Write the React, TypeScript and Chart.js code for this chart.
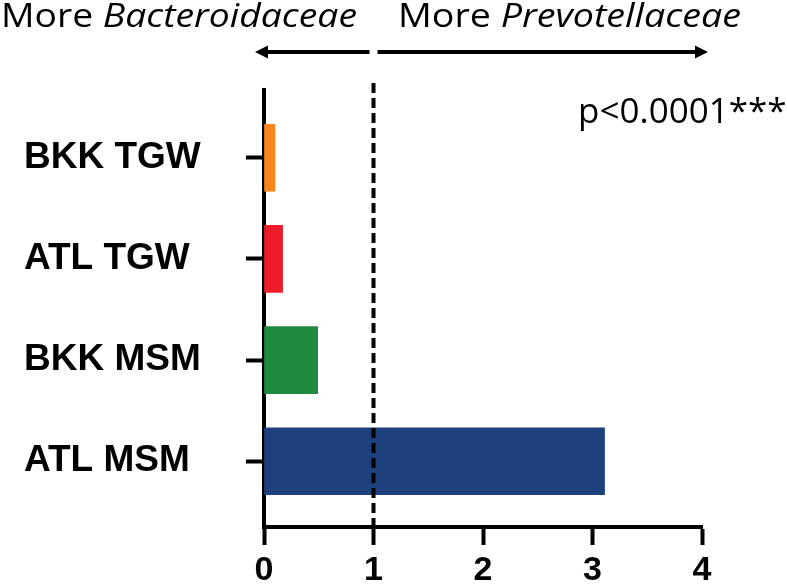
import React, { useEffect, useRef } from "react";
import { Chart, registerables } from "chart.js";

Chart.register(...registerables);

const categories = ["BKK TGW", "ATL TGW", "BKK MSM", "ATL MSM"];
const ratioValues = [0.1, 0.17, 0.49, 3.11];
const barColors = ["#F7861F", "#EC1C2A", "#1F8A3D", "#1E407C"];
const xTicks = [0, 1, 2, 3, 4];
const referenceValue = 1;
const leftLabel = ["More ", "Bacteroidaceae"];
const rightLabel = ["More ", "Prevotellaceae"];
const pValueText = "p<0.0001***";

const decorPlugin = {
  id: "decor",
  afterDraw(chart: any) {
    const ctx = chart.ctx as CanvasRenderingContext2D;
    const xs = chart.scales.x;
    const area = chart.chartArea;
    const x0 = xs.getPixelForValue(xTicks[0]);
    const x1 = xs.getPixelForValue(referenceValue);
    const x4 = xs.getPixelForValue(xTicks[xTicks.length - 1]);
    ctx.save();
    // dashed reference line
    ctx.strokeStyle = "#000";
    ctx.lineWidth = 4;
    ctx.setLineDash([10, 5]);
    ctx.beginPath();
    ctx.moveTo(x1, area.top - 7);
    ctx.lineTo(x1, area.bottom);
    ctx.stroke();
    ctx.setLineDash([]);

    // arrows
    const ay = area.top - 38;
    const drawArrow = (from: number, to: number) => {
      const dir = Math.sign(to - from);
      ctx.lineWidth = 4;
      ctx.beginPath();
      ctx.moveTo(from, ay);
      ctx.lineTo(to - dir * 10, ay);
      ctx.stroke();
      ctx.beginPath();
      ctx.moveTo(to, ay);
      ctx.lineTo(to - dir * 13, ay - 6.5);
      ctx.lineTo(to - dir * 13, ay + 6.5);
      ctx.closePath();
      ctx.fill();
    };
    ctx.fillStyle = "#000";
    drawArrow(x1 - 4, x0 - 9);
    drawArrow(x1 + 4, x4 + 6);

    // top labels
    const drawLabel = (parts: string[], left: number, right: number, base: number) => {
      const fNormal = "500 32px 'Open Sans'";
      const fItalic = "italic 500 32px 'Open Sans'";
      ctx.font = fNormal;
      const w1 = ctx.measureText(parts[0]).width;
      ctx.font = fItalic;
      const w2 = ctx.measureText(parts[1]).width;
      const scale = (right - left) / (w1 + w2);
      ctx.save();
      ctx.translate(left, base);
      ctx.scale(scale, 1);
      ctx.textAlign = "left";
      ctx.textBaseline = "alphabetic";
      ctx.font = fNormal;
      ctx.fillText(parts[0], 0, 0);
      ctx.font = fItalic;
      ctx.fillText(parts[1], w1, 0);
      ctx.restore();
    };
    drawLabel(leftLabel, 1, 357, 27);
    drawLabel(rightLabel, 398, 741, 27);

    // p-value
    ctx.font = "35px 'Open Sans'";
    ctx.textAlign = "left";
    ctx.textBaseline = "alphabetic";
    ctx.fillText(pValueText, 578, 123);
    ctx.restore();
  },
};

export default function App() {
  const ref = useRef<HTMLCanvasElement | null>(null);
  useEffect(() => {
    if (!ref.current) return;
    const chart = new Chart(ref.current, {
      type: "bar",
      data: {
        datasets: [
          {
            data: ratioValues.map((v, i) => ({ x: v, y: i })) as any,
            backgroundColor: barColors,
            borderWidth: 0,
            barThickness: 67,
          },
        ],
      },
      options: {
        indexAxis: "y",
        animation: false,
        responsive: false,
        layout: { padding: { left: 24, top: 90, right: 85, bottom: 0 } },
        plugins: { legend: { display: false }, tooltip: { enabled: false } },
        scales: {
          x: {
            type: "linear",
            min: xTicks[0],
            max: xTicks[xTicks.length - 1],
            afterBuildTicks: (axis: any) => {
              axis.ticks = xTicks.map((v) => ({ value: v }));
            },
            afterFit: (s: any) => {
              s.height = 59;
            },
            grid: {
              drawOnChartArea: false,
              drawTicks: true,
              tickLength: 18,
              tickWidth: 4,
              color: "#000",
            },
            border: { color: "#000", width: 4 },
            ticks: {
              color: "#000",
              padding: 5,
              font: { family: "'Liberation Sans'", size: 34, weight: "bold" },
            },
          },
          y: {
            type: "linear",
            reverse: true,
            offset: false,
            min: -0.67,
            max: 3.65,
            z: 1,
            afterBuildTicks: (axis: any) => {
              axis.ticks = categories.map((_, i) => ({ value: i }));
            },
            afterFit: (s: any) => {
              s.width = 240;
            },
            grid: {
              offset: false,
              drawOnChartArea: false,
              drawTicks: true,
              tickLength: 18,
              tickWidth: 4,
              color: "#000",
            },
            border: { color: "#000", width: 4 },
            ticks: {
              color: "#000",
              crossAlign: "far",
              padding: 10,
              callback: (v: any) => categories[Number(v)] ?? "",
              font: { family: "'Liberation Sans'", size: 37, weight: "bold" },
            },
          },
        } as any,
      },
      plugins: [decorPlugin],
    });
    return () => chart.destroy();
  }, []);
  return (
    <div style={{ position: "fixed", left: 0, top: 0, width: 787, height: 586, background: "#fff" }}>
      <canvas ref={ref} width={787} height={586} style={{ display: "block" }} />
    </div>
  );
}
